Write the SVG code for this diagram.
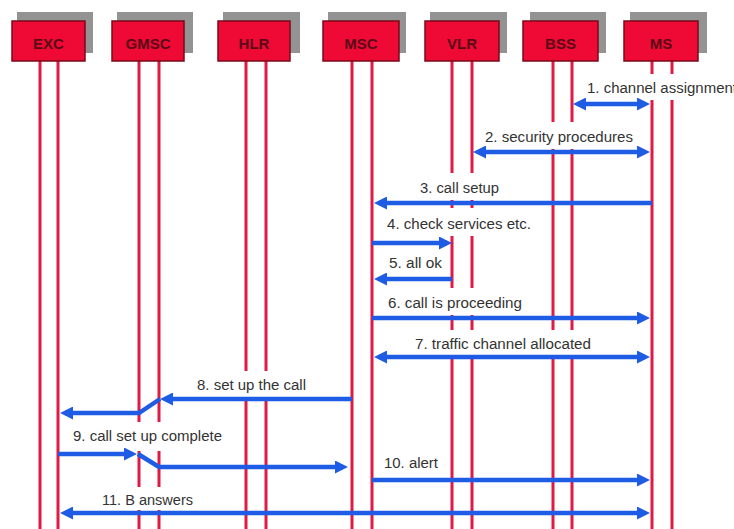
<svg xmlns="http://www.w3.org/2000/svg" width="734" height="529" viewBox="0 0 734 529">
  <style>
    .shadow { fill: #939393; }
    .box { fill: #ee0a35; stroke: #7a0a1a; stroke-width: 1.5; }
    .name { font-family: "Liberation Sans", Arial, sans-serif; font-weight: bold; font-size: 15px; fill: #5a0a16; text-anchor: middle; }
    .life { stroke: #de1a45; stroke-width: 3; }
    .msg { stroke: #1f5ce6; stroke-width: 4.5; fill: none; }
    .arr { marker-end: url(#head); }
    .both { marker-start: url(#head); marker-end: url(#head); }
    .lbl { font-family: "Liberation Sans", Arial, sans-serif; font-size: 14px; fill: #333333; }
    .bg { fill: #ffffff; }
  </style>
  <defs>
    <marker id="head" viewBox="0 0 13 13" refX="8" refY="6.5" markerWidth="13" markerHeight="13" markerUnits="userSpaceOnUse" orient="auto-start-reverse">
      <path d="M0,0 L13,6.5 L0,13 z" fill="#1f5ce6"/>
    </marker>
  </defs>
  <rect x="0" y="0" width="734" height="529" fill="#ffffff"/>

  <g id="lifelines">
    <line class="life" x1="40" y1="61" x2="40" y2="529"/>
    <line class="life" x1="58" y1="61" x2="58" y2="529"/>
    <line class="life" x1="139" y1="61" x2="139" y2="529"/>
    <line class="life" x1="159" y1="61" x2="159" y2="529"/>
    <line class="life" x1="246" y1="61" x2="246" y2="529"/>
    <line class="life" x1="266" y1="61" x2="266" y2="529"/>
    <line class="life" x1="352" y1="61" x2="352" y2="529"/>
    <line class="life" x1="372" y1="61" x2="372" y2="529"/>
    <line class="life" x1="452" y1="61" x2="452" y2="529"/>
    <line class="life" x1="472" y1="61" x2="472" y2="529"/>
    <line class="life" x1="553" y1="61" x2="553" y2="529"/>
    <line class="life" x1="572" y1="61" x2="572" y2="529"/>
    <line class="life" x1="652" y1="61" x2="652" y2="529"/>
    <line class="life" x1="672" y1="61" x2="672" y2="529"/>
  </g>

  <g id="node-exc">
    <rect class="shadow" x="17" y="12" width="76" height="41"/>
    <rect class="box" x="12" y="21" width="73" height="40"/>
    <text class="name" x="48.5" y="48.5">EXC</text>
  </g>
  <g id="node-gmsc">
    <rect class="shadow" x="117" y="12" width="76" height="41"/>
    <rect class="box" x="112" y="21" width="72" height="40"/>
    <text class="name" x="148" y="48.5">GMSC</text>
  </g>
  <g id="node-hlr">
    <rect class="shadow" x="223" y="12" width="77" height="41"/>
    <rect class="box" x="218" y="21" width="72" height="40"/>
    <text class="name" x="254" y="48.5">HLR</text>
  </g>
  <g id="node-msc">
    <rect class="shadow" x="328" y="12" width="78" height="41"/>
    <rect class="box" x="323" y="21" width="76" height="40"/>
    <text class="name" x="361" y="48.5">MSC</text>
  </g>
  <g id="node-vlr">
    <rect class="shadow" x="430" y="12" width="77" height="41"/>
    <rect class="box" x="425" y="21" width="74" height="40"/>
    <text class="name" x="462" y="48.5">VLR</text>
  </g>
  <g id="node-bss">
    <rect class="shadow" x="530" y="12" width="76" height="41"/>
    <rect class="box" x="523" y="21" width="75" height="40"/>
    <text class="name" x="560.5" y="48.5">BSS</text>
  </g>
  <g id="node-ms">
    <rect class="shadow" x="630" y="12" width="77" height="41"/>
    <rect class="box" x="624" y="21" width="74" height="40"/>
    <text class="name" x="661" y="48.5">MS</text>
  </g>

  <g id="labels">
    <rect class="bg" x="585" y="74" width="149" height="26"/>
    <text class="lbl" x="587" y="93" textLength="150" lengthAdjust="spacingAndGlyphs">1. channel assignment</text>
    <rect class="bg" x="483" y="122" width="152" height="27"/>
    <text class="lbl" x="485" y="142" textLength="148" lengthAdjust="spacingAndGlyphs">2. security procedures</text>
    <rect class="bg" x="418" y="173" width="82" height="27"/>
    <text class="lbl" x="420" y="193" textLength="79" lengthAdjust="spacingAndGlyphs">3. call setup</text>
    <rect class="bg" x="385" y="208" width="148" height="28"/>
    <text class="lbl" x="387" y="229" textLength="144" lengthAdjust="spacingAndGlyphs">4. check services etc.</text>
    <text class="lbl" x="389" y="268" textLength="53" lengthAdjust="spacingAndGlyphs">5. all ok</text>
    <rect class="bg" x="386" y="288" width="138" height="27"/>
    <text class="lbl" x="388" y="308" textLength="134" lengthAdjust="spacingAndGlyphs">6. call is proceeding</text>
    <rect class="bg" x="413" y="330" width="181" height="25"/>
    <text class="lbl" x="415" y="349" textLength="176" lengthAdjust="spacingAndGlyphs">7. traffic channel allocated</text>
    <rect class="bg" x="195" y="371" width="113" height="26"/>
    <text class="lbl" x="197" y="390" textLength="109" lengthAdjust="spacingAndGlyphs">8. set up the call</text>
    <rect class="bg" x="71" y="422" width="153" height="29"/>
    <text class="lbl" x="73" y="441" textLength="149" lengthAdjust="spacingAndGlyphs">9. call set up complete</text>
    <text class="lbl" x="384" y="468" textLength="54" lengthAdjust="spacingAndGlyphs">10. alert</text>
    <rect class="bg" x="100" y="487" width="95" height="23"/>
    <text class="lbl" x="102" y="505" textLength="91" lengthAdjust="spacingAndGlyphs">11. B answers</text>
  </g>

  <g id="connectors">
    <line class="msg both" x1="578" y1="104" x2="645" y2="104"/>
    <line class="msg both" x1="478" y1="152" x2="645" y2="152"/>
    <line class="msg arr" x1="652" y1="203" x2="379" y2="203"/>
    <line class="msg arr" x1="372" y1="243" x2="447" y2="243"/>
    <line class="msg arr" x1="452" y1="279" x2="379" y2="279"/>
    <line class="msg arr" x1="372" y1="318" x2="645" y2="318"/>
    <line class="msg both" x1="379" y1="357" x2="645" y2="357"/>
    <line class="msg arr" x1="352" y1="399" x2="165" y2="399"/>
    <polyline class="msg arr" points="160,399 139,413 65,413"/>
    <line class="msg arr" x1="58" y1="454" x2="132" y2="454"/>
    <polyline class="msg arr" points="138,454 159,467 343,467"/>
    <line class="msg arr" x1="372" y1="480" x2="645" y2="480"/>
    <line class="msg both" x1="65" y1="513" x2="645" y2="513"/>
  </g>
</svg>
